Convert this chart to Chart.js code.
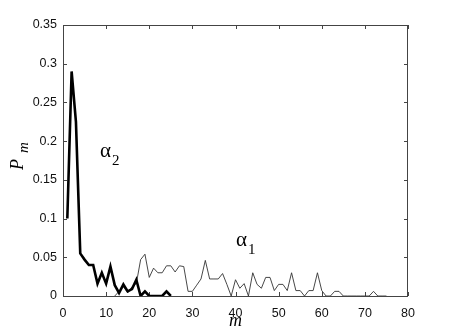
<!DOCTYPE html>
<html>
<head>
<meta charset="utf-8">
<script src="https://cdn.jsdelivr.net/npm/chart.js@4.4.0/dist/chart.umd.min.js"></script>
<style>
  html, body { margin: 0; padding: 0; background: #fff; }
  canvas { display: block; }
</style>
</head>
<body>
<canvas id="pmChart" width="450" height="334"></canvas>
<script>
// alpha_2 series (thick line)
const mAlpha2 = [1, 2, 3, 4, 5, 6, 7, 8, 9, 10, 11, 12, 13, 14, 15, 16, 17, 18, 19, 20, 21, 22, 23, 24, 25];
const pAlpha2 = [0.1, 0.29, 0.225, 0.055, 0.047, 0.04, 0.04, 0.016, 0.03, 0.016, 0.038, 0.014, 0.004, 0.015, 0.006, 0.009, 0.021, 0, 0.006, 0, 0, 0, 0, 0.006, 0];

// alpha_1 series (thin line)
const mAlpha1 = [12, 13, 14, 15, 16, 17, 18, 19, 20, 21, 22, 23, 24, 25, 26, 27, 28, 29, 30, 31, 32, 33, 34, 35,
                 36, 37, 38, 39, 40, 41, 42, 43, 44, 45, 46, 47, 48, 49, 50, 51, 52, 53, 54, 55, 56, 57, 58, 59,
                 60, 61, 62, 63, 64, 65, 66, 67, 68, 69, 70, 71, 72, 73, 74, 75];
const pAlpha1 = [0, 0.006, 0.012, 0.004, 0.012, 0.016, 0.047, 0.054, 0.024, 0.036, 0.03, 0.03, 0.039, 0.039, 0.031, 0.039, 0.038, 0.006, 0.006, 0.014, 0.022, 0.046, 0.022, 0.022,
                 0.022, 0.029, 0.015, 0, 0.021, 0.01, 0.016, 0, 0.03, 0.015, 0.01, 0.024, 0.024, 0.007, 0.015, 0.015, 0.007, 0.03, 0.007, 0.007, 0, 0.007, 0.007, 0.03,
                 0.007, 0, 0, 0.006, 0.006, 0, 0, 0, 0, 0, 0, 0, 0.006, 0, 0, 0];

// tick labels
const xTicks = [0, 10, 20, 30, 40, 50, 60, 70, 80];
const yTicks = [0, 0.05, 0.1, 0.15, 0.2, 0.25, 0.3, 0.35];

const toPoints = (xs, ys) => xs.map((x, i) => ({ x: x, y: ys[i] }));

// frame, inward tick marks and text labels (alpha_1, alpha_2, axis titles)
const framePlugin = {
    id: 'frame',
    beforeDatasetsDraw(chart) {
        const { ctx, chartArea: a, scales } = chart;
        ctx.save();
        ctx.strokeStyle = '#444';
        ctx.lineWidth = 1;
        ctx.strokeRect(a.left + 0.5, a.top + 0.5, a.right - a.left - 1, a.bottom - a.top);
        ctx.beginPath();
        xTicks.forEach(v => {
            const px = Math.round(scales.x.getPixelForValue(v)) + 0.5;
            ctx.moveTo(px, a.bottom); ctx.lineTo(px, a.bottom - 4);
            ctx.moveTo(px, a.top); ctx.lineTo(px, a.top + 4);
        });
        yTicks.forEach(v => {
            const py = Math.round(scales.y.getPixelForValue(v)) + 0.5;
            ctx.moveTo(a.left, py); ctx.lineTo(a.left + 4, py);
            ctx.moveTo(a.right, py); ctx.lineTo(a.right - 4, py);
        });
        ctx.stroke();
        ctx.restore();
    },
    afterDraw(chart) {
        const { ctx, chartArea: a, scales } = chart;
        ctx.save();
        ctx.fillStyle = '#000';
        ctx.textBaseline = 'alphabetic';

        // series labels
        const label = (m, p, sub) => {
            const x = scales.x.getPixelForValue(m);
            const y = scales.y.getPixelForValue(p);
            ctx.font = '21px "Liberation Serif"';
            ctx.fillText('\u03b1', x, y);
            const w = ctx.measureText('\u03b1').width;
            ctx.font = '15px "Liberation Serif"';
            ctx.fillText(sub, x + w + 1, y + 8);
        };
        label(8.6, 0.179, '2');
        label(40.1, 0.065, '1');

        // x title
        ctx.font = 'italic 18px "Liberation Serif"';
        ctx.textAlign = 'center';
        ctx.fillText('m', (a.left + a.right) / 2, 326);

        // y title, rotated
        ctx.textAlign = 'left';
        ctx.translate(23, 170);
        ctx.rotate(-Math.PI / 2);
        ctx.font = 'italic 18px "Liberation Serif"';
        ctx.fillText('P', 0, 0);
        const pw = ctx.measureText('P').width;
        ctx.font = 'italic 15px "Liberation Serif"';
        ctx.fillText('m', pw + 6, 5);
        ctx.restore();
    }
};

const ctx = document.getElementById('pmChart').getContext('2d');
const pmChart = new Chart(ctx, {
    type: 'line',
    data: {
        datasets: [
            {
                label: 'alpha_2',
                data: toPoints(mAlpha2, pAlpha2),
                borderColor: '#000',
                borderWidth: 2.6,
                pointRadius: 0,
                tension: 0,
                clip: 0,
                order: 0
            },
            {
                label: 'alpha_1',
                data: toPoints(mAlpha1, pAlpha1),
                borderColor: '#333',
                borderWidth: 0.9,
                pointRadius: 0,
                tension: 0,
                clip: 0,
                order: 1
            }
        ]
    },
    options: {
        responsive: false,
        animation: false,
        layout: {
            padding: { left: 0, top: 25, right: 42, bottom: 0 }
        },
        scales: {
            x: {
                type: 'linear',
                min: 0,
                max: 80,
                afterFit: s => { s.height = 38; },
                afterBuildTicks: s => { s.ticks = xTicks.map(v => ({ value: v })); },
                grid: { display: false, drawTicks: false },
                border: { display: false },
                ticks: {
                    padding: 10,
                    maxRotation: 0,
                    autoSkip: false,
                    color: '#111',
                    font: { family: '"Liberation Sans", Arial', size: 12.5 },
                    callback: v => String(v)
                }
            },
            y: {
                type: 'linear',
                min: 0,
                max: 0.35,
                afterFit: s => { s.width = 63; },
                afterBuildTicks: s => { s.ticks = yTicks.map(v => ({ value: v })); },
                grid: { display: false, drawTicks: false },
                border: { display: false },
                ticks: {
                    padding: 6,
                    autoSkip: false,
                    color: '#111',
                    font: { family: '"Liberation Sans", Arial', size: 12.5 },
                    callback: v => String(v)
                }
            }
        },
        plugins: {
            legend: { display: false },
            tooltip: { enabled: false }
        }
    },
    plugins: [framePlugin]
});
</script>
</body>
</html>
